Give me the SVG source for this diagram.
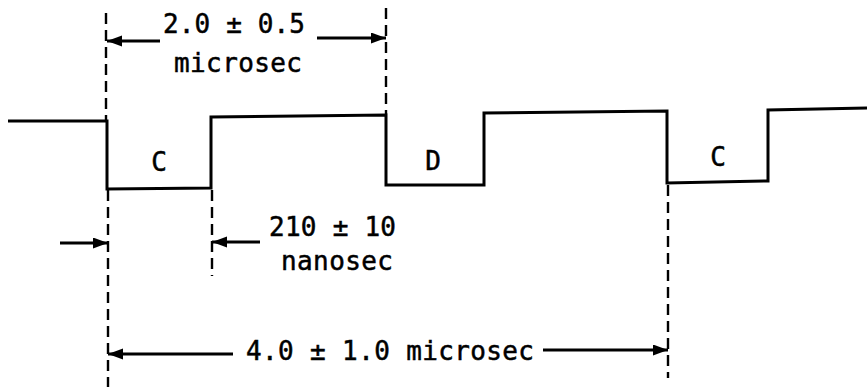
<svg xmlns="http://www.w3.org/2000/svg" width="867" height="387" viewBox="0 0 867 387">
  <style>
    .wave { fill: none; stroke: #000; stroke-width: 3; stroke-linejoin: miter; }
    .guide { fill: none; stroke: #000; stroke-width: 2.4; stroke-dasharray: 11 6; }
    .dim { fill: none; stroke: #000; stroke-width: 3; }
    .lbl { font-family: "DejaVu Sans Mono", "Liberation Mono", monospace; font-size: 26px; fill: #000; stroke: #000; stroke-width: 0.5; }
  </style>
  <defs>
    <marker id="ah" markerUnits="userSpaceOnUse" markerWidth="16" markerHeight="12" refX="15" refY="5.5" orient="auto">
      <path d="M0,0 L15,5.5 L0,11 z" fill="#000"/>
    </marker>
  </defs>
  <rect width="867" height="387" fill="#fff"/>

  <g id="waveform">
    <polyline class="wave" points="8,121 107,121 107,189 211,188 211,117 386,115 386,185 484,185 484,113 667,111 667,183 768,181 768,110 867,108"/>
  </g>

  <g id="guides">
    <line class="guide" x1="106" y1="13" x2="106" y2="120"/>
    <line class="guide" x1="108" y1="190" x2="108" y2="387"/>
    <line class="guide" x1="386" y1="8" x2="386" y2="114"/>
    <line class="guide" x1="212" y1="190" x2="212" y2="276"/>
    <line class="guide" x1="668" y1="185" x2="668" y2="378"/>
  </g>

  <g id="connectors">
    <line class="dim" x1="160" y1="41" x2="107" y2="41" marker-end="url(#ah)"/>
    <line class="dim" x1="317" y1="38" x2="386" y2="38" marker-end="url(#ah)"/>
    <line class="dim" x1="60" y1="243" x2="108" y2="243" marker-end="url(#ah)"/>
    <line class="dim" x1="260" y1="242" x2="212" y2="242" marker-end="url(#ah)"/>
    <line class="dim" x1="233" y1="354" x2="108" y2="354" marker-end="url(#ah)"/>
    <line class="dim" x1="543" y1="350" x2="668" y2="350" marker-end="url(#ah)"/>
  </g>

  <g id="label-period">
    <text class="lbl" x="163" y="33" textLength="142">2.0 ± 0.5</text>
    <text class="lbl" x="174" y="72" textLength="128">microsec</text>
  </g>
  <g id="label-c1"><text class="lbl" x="159" y="171" text-anchor="middle">C</text></g>
  <g id="label-d"><text class="lbl" x="433" y="170" text-anchor="middle">D</text></g>
  <g id="label-c2"><text class="lbl" x="718" y="166" text-anchor="middle">C</text></g>
  <g id="label-width">
    <text class="lbl" x="269" y="236" textLength="127">210 ± 10</text>
    <text class="lbl" x="281" y="270" textLength="112">nanosec</text>
  </g>
  <g id="label-spacing">
    <text class="lbl" x="246" y="360" textLength="288">4.0 ± 1.0 microsec</text>
  </g>
</svg>
